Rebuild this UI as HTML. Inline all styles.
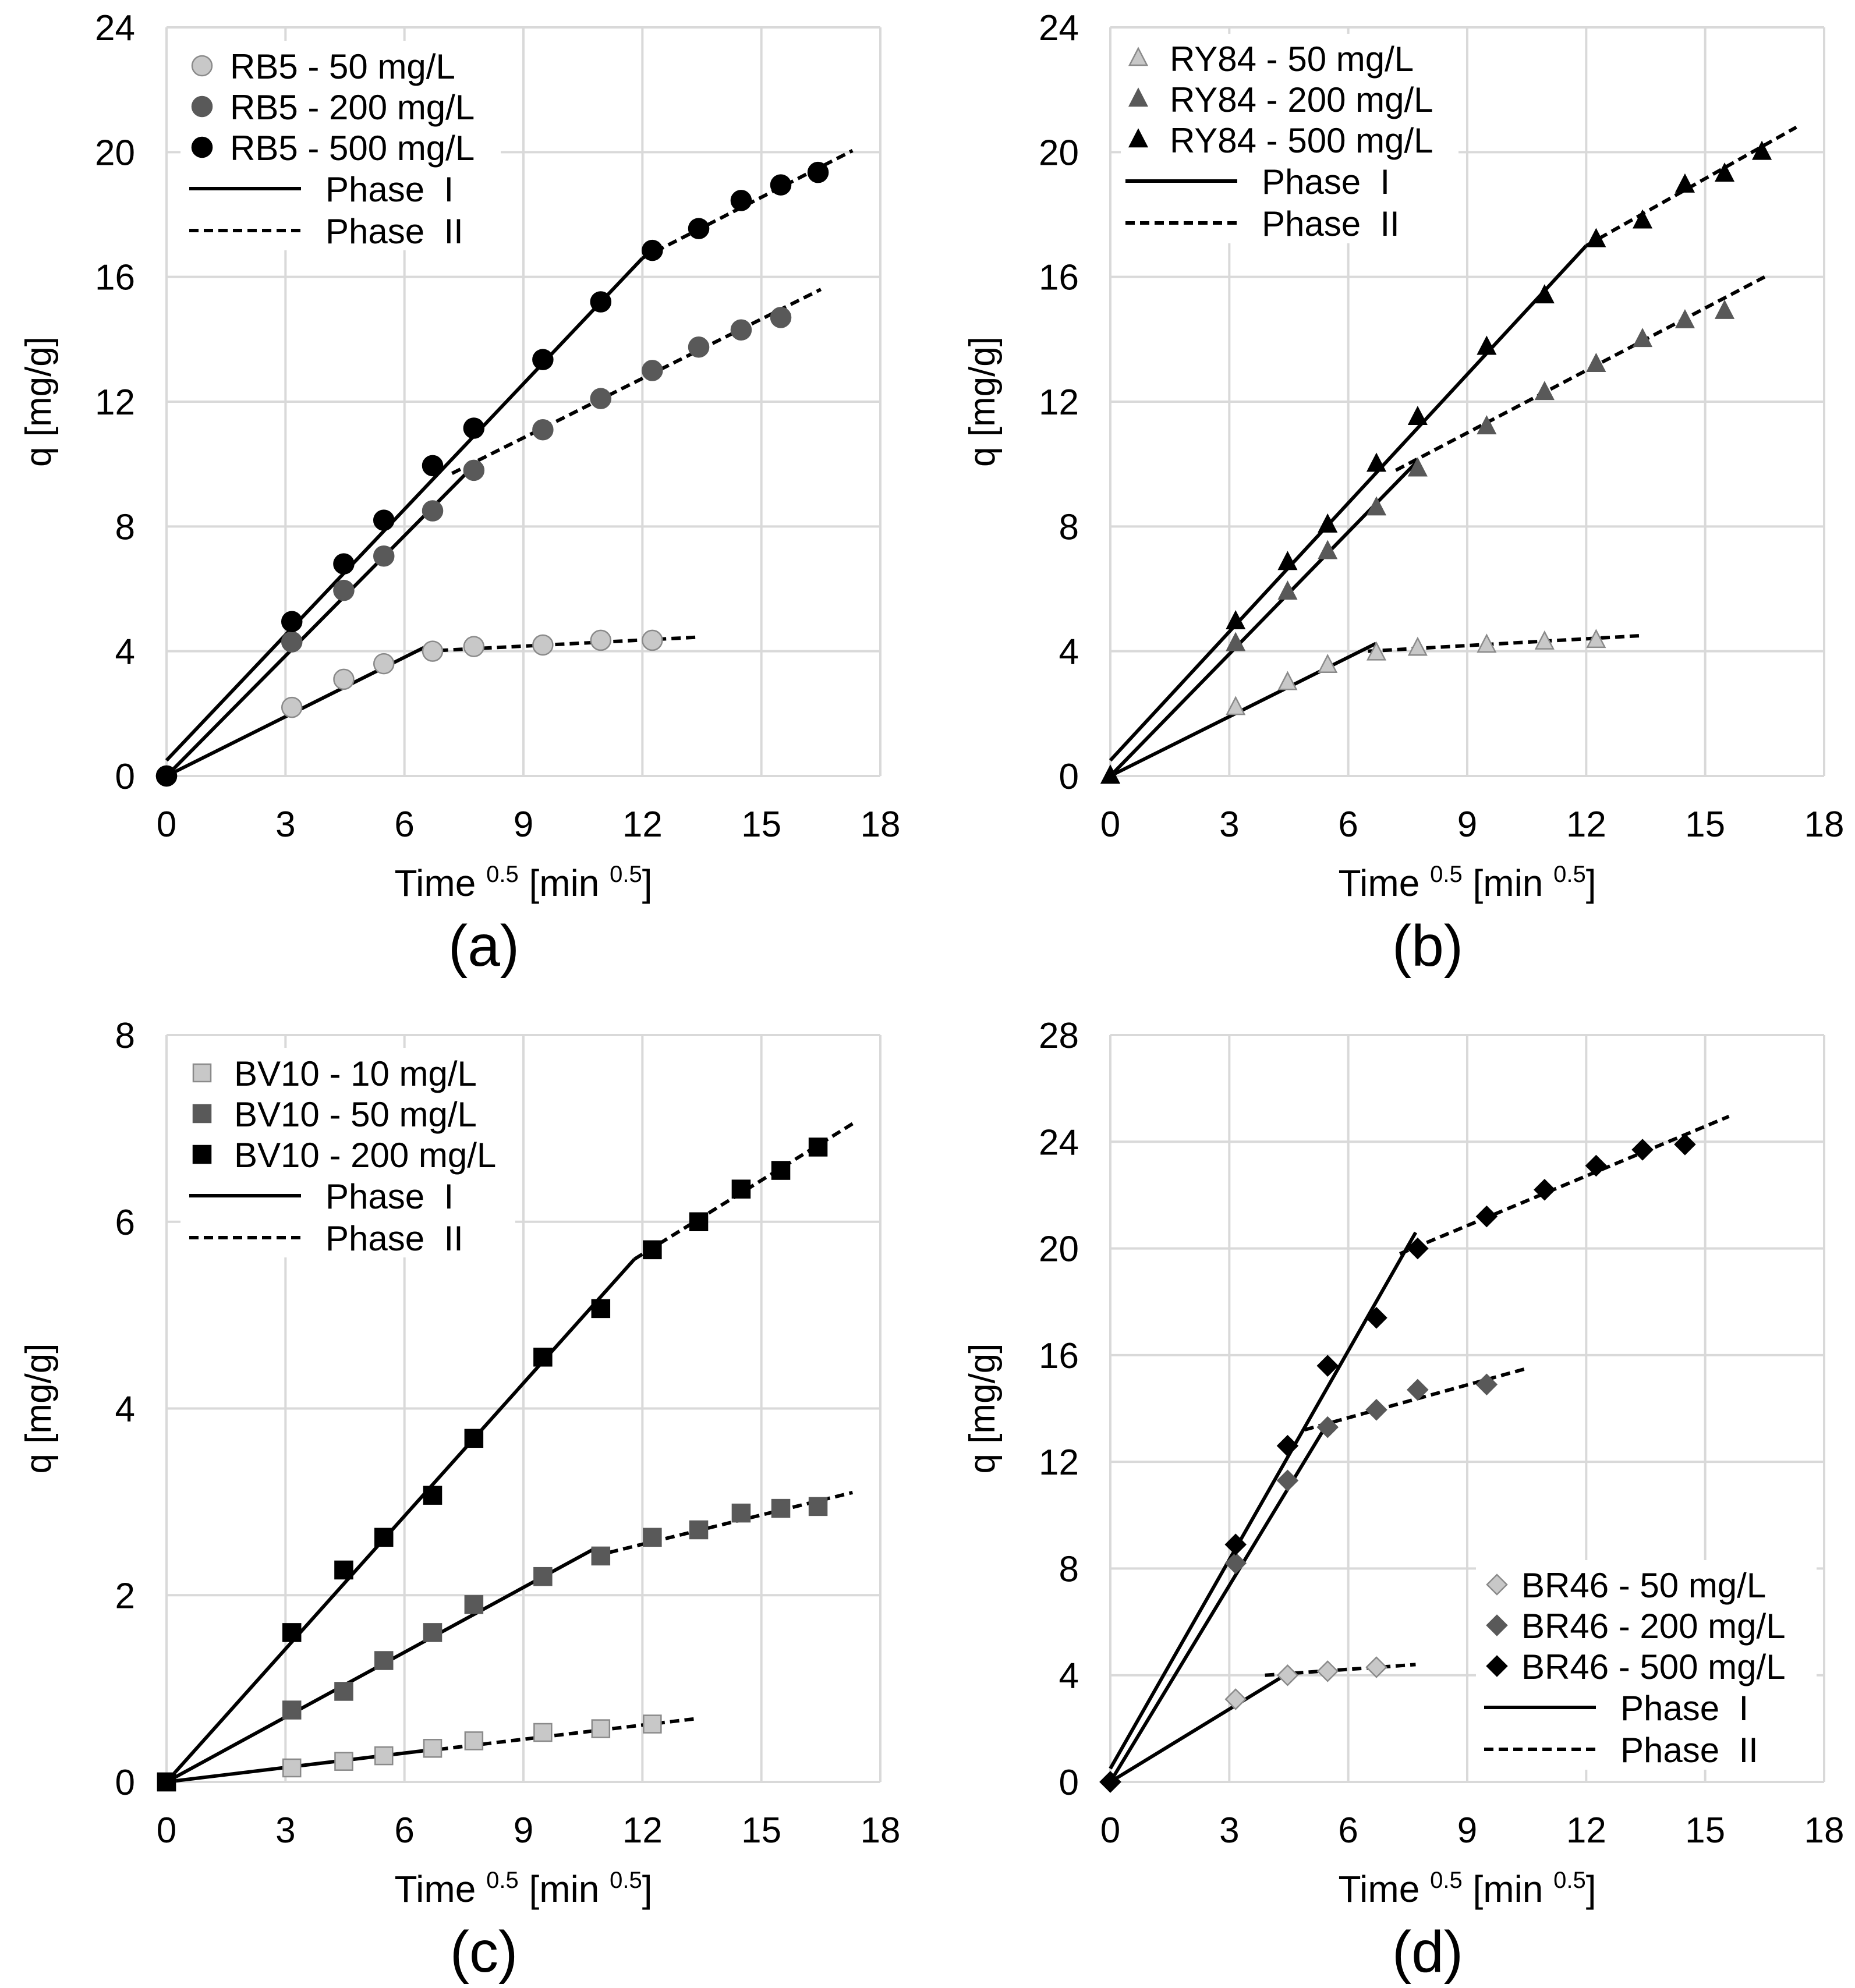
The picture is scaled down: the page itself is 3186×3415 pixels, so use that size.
<!DOCTYPE html>
<html><head><meta charset="utf-8"><style>
html,body{margin:0;padding:0;background:#fff}
svg{display:block}
text{font-family:"Liberation Sans",Arial,sans-serif;fill:#000}
</style></head>
<body>
<svg id="fig" width="3186" height="3415" viewBox="0 0 3186 3415" xmlns="http://www.w3.org/2000/svg"></svg>
<script>
// ---- data ----
const tx9 = [0, 3.16, 4.47, 5.48, 6.71, 7.75, 9.49, 10.95, 12.25];
const tx12 = [0, 3.16, 4.47, 5.48, 6.71, 7.75, 9.49, 10.95, 12.25, 13.42, 14.49, 15.49];
const tx13 = [0, 3.16, 4.47, 5.48, 6.71, 7.75, 9.49, 10.95, 12.25, 13.42, 14.49, 15.49, 16.43];
const xTicks = [0, 3, 6, 9, 12, 15, 18];

const rb5_50 = [0, 2.2, 3.1, 3.6, 4.0, 4.15, 4.2, 4.35, 4.35];
const rb5_200 = [0, 4.3, 5.95, 7.05, 8.5, 9.8, 11.1, 12.1, 13.0, 13.75, 14.3, 14.7];
const rb5_500 = [0, 4.95, 6.8, 8.2, 9.95, 11.15, 13.35, 15.2, 16.85, 17.55, 18.45, 18.95, 19.35];
const rb5_p1 = [[0,0,6.7,4.25],[0,0,7.75,9.95],[0,0.5,12,16.6]];
const rb5_p2 = [[6.5,4.0,13.4,4.45],[7.2,9.7,16.5,15.6],[12,16.6,17.3,20.05]];

const ry84_50 = [0, 2.2, 3.0, 3.55, 3.95, 4.1, 4.2, 4.3, 4.35];
const ry84_200 = [0, 4.25, 5.9, 7.2, 8.6, 9.85, 11.2, 12.3, 13.2, 14.0, 14.6, 14.9];
const ry84_500 = [0, 4.95, 6.85, 8.05, 10.0, 11.5, 13.75, 15.4, 17.2, 17.8, 18.95, 19.3, 20.0];
const ry84_p1 = [[0,0,6.7,4.25],[0,0,7.75,10.1],[0,0.5,12,17.0]];
const ry84_p2 = [[6.5,4.0,13.4,4.5],[7.2,9.8,16.5,16.0],[12,17.0,17.3,20.8]];

const bv10_10 = [0, 0.15, 0.22, 0.28, 0.36, 0.44, 0.53, 0.57, 0.62];
const bv10_50 = [0, 0.77, 0.97, 1.3, 1.6, 1.9, 2.2, 2.42, 2.62, 2.7, 2.88, 2.93, 2.95];
const bv10_200 = [0, 1.6, 2.27, 2.62, 3.07, 3.68, 4.55, 5.07, 5.7, 6.0, 6.35, 6.55, 6.8];
const bv10_p1 = [[0,0,6.6,0.34],[0,0,10.8,2.5],[0,0,11.8,5.6]];
const bv10_p2 = [[6.5,0.33,13.4,0.68],[10.8,2.42,17.3,3.1],[11.8,5.6,17.3,7.05]];

const tx5 = [0, 3.16, 4.47, 5.48, 6.71];
const tx7 = [0, 3.16, 4.47, 5.48, 6.71, 7.75, 9.49];
const tx11 = [0, 3.16, 4.47, 5.48, 6.71, 7.75, 9.49, 10.95, 12.25, 13.42, 14.49];
const br46_50 = [0, 3.1, 4.0, 4.15, 4.3];
const br46_200 = [0, 8.2, 11.3, 13.3, 13.95, 14.7, 14.9];
const br46_500 = [0, 8.9, 12.6, 15.6, 17.4, 20.0, 21.2, 22.2, 23.1, 23.7, 23.9];
const br46_p1 = [[0,0,4.4,4.0],[0,0,5.5,13.5],[0,0.5,7.7,20.6]];
const br46_p2 = [[3.9,4.0,7.7,4.4],[4.9,13.2,10.5,15.5],[7.3,19.8,15.6,24.95]];

const yTicksAB = [0,4,8,12,16,20,24];
const yTicksC = [0,2,4,6,8];
const yTicksD = [0,4,8,12,16,20,24,28];

const NS = "http://www.w3.org/2000/svg";
const svg = document.getElementById('fig');
function el(tag, attrs, parent, txt){
  const e = document.createElementNS(NS, tag);
  for (const k in attrs) e.setAttribute(k, attrs[k]);
  if (txt !== undefined) e.textContent = txt;
  (parent||svg).appendChild(e);
  return e;
}
const fills = ['#c8c8c8','#595959','#000'];
const strokes = ['#8a8a8a','#595959','#000'];

function marker(g, shape, cx, cy, i){
  let m;
  if (shape==='circle') m = el('circle',{cx:cx,cy:cy,r:17,fill:fills[i],stroke:strokes[i],'stroke-width':2.5},g);
  else if (shape==='tri') m = el('polygon',{points:`${cx},${cy-17} ${cx+15},${cy+12} ${cx-15},${cy+12}`,fill:fills[i],stroke:strokes[i],'stroke-width':2.5},g);
  else if (shape==='sq') m = el('rect',{x:cx-15,y:cy-15,width:30,height:30,fill:fills[i],stroke:strokes[i],'stroke-width':2.5},g);
  else m = el('polygon',{points:`${cx},${cy-17} ${cx+17},${cy} ${cx},${cy+17} ${cx-17},${cy}`,fill:fills[i],stroke:strokes[i],'stroke-width':2.5},g);
  return m;
}

function panel(p){
  const g = el('g',{});
  
  
  const sx = v => p.x0 + v/18*(p.x1-p.x0);
  const sy = v => p.y0 - v/p.ymax*(p.y0-p.y1);
  const grid = el('g',{},g);
  
  
  xTicks.forEach(t=>{
    el('line',{x1:sx(t),x2:sx(t),y1:p.y0,y2:p.y1,stroke:'#d9d9d9','stroke-width':4},grid);
    const lab = el('text',{x:sx(t),y:p.y0+104,'font-size':62,'text-anchor':'middle'},g,String(t));
    
    
  });
  p.yTicks.forEach(t=>{
    el('line',{x1:p.x0,x2:p.x1,y1:sy(t),y2:sy(t),stroke:'#d9d9d9','stroke-width':4},grid);
    const lab = el('text',{x:p.x0-54,y:sy(t)+22,'font-size':62,'text-anchor':'end'},g,String(t));
    
    
  });
  const xt = el('text',{x:(p.x0+p.x1)/2,y:p.y0+206,'font-size':64,'text-anchor':'middle'},g);
  
  
  el('tspan',{},xt,'Time ');
  el('tspan',{'font-size':40,dy:-24},xt,'0.5');
  el('tspan',{dy:24},xt,' [min ');
  el('tspan',{'font-size':40,dy:-24},xt,'0.5');
  el('tspan',{dy:24},xt,']');
  const cy = (p.y0+p.y1)/2;
  const yt = el('text',{x:p.x0-199,y:cy,'font-size':62,'text-anchor':'middle',transform:`rotate(-90 ${p.x0-199} ${cy})`},g,'q [mg/g]');
  
  
  const pl = el('text',{x:(p.x0+p.x1)/2-68,y:p.y0+326,'font-size':100,'text-anchor':'middle'},g,p.label);
  
  
  const lb = el('rect',{x:p.lg.bx,y:p.lg.by,width:p.lg.bw,height:p.lg.bh,fill:'#fff'},g);
  
  
  p.p1.forEach(s=>{
    const l = el('line',{x1:sx(s[0]),y1:sy(s[1]),x2:sx(s[2]),y2:sy(s[3]),stroke:'#000','stroke-width':6},g);
    
    
  });
  p.p2.forEach(s=>{
    const l = el('line',{x1:sx(s[0]),y1:sy(s[1]),x2:sx(s[2]),y2:sy(s[3]),stroke:'#000','stroke-width':6,'stroke-dasharray':'16 9'},g);
    
    
  });
  p.series.forEach((s,i)=>{
    const sg = el('g',{},g);
    
    
    s.y.forEach((v,j)=>{
      const m = marker(sg, p.shape, sx(s.x[j]), sy(v), i);
      
      
    });
  });
  const lg = el('g',{},g);
  
  
  const mx = p.lg.mx, my = p.lg.my;
  p.names.forEach((n,i)=>{
    const e = el('g',{},lg);
    
    
    marker(e, p.shape, mx, my+i*70, i);
    el('text',{x:mx+p.lg.tdx,y:my+i*70+22,'font-size':60},e,n);
  });
  const e1 = el('g',{},lg);
  
  
  el('line',{x1:mx-22,x2:mx+170,y1:my+211,y2:my+211,stroke:'#000','stroke-width':6},e1);
  el('text',{x:mx+212,y:my+233,'font-size':60},e1,'Phase\u00A0\u00A0I');
  const e2 = el('g',{},lg);
  
  
  el('line',{x1:mx-22,x2:mx+170,y1:my+283,y2:my+283,stroke:'#000','stroke-width':6,'stroke-dasharray':'16 9'},e2);
  el('text',{x:mx+212,y:my+305,'font-size':60},e2,'Phase\u00A0\u00A0II');
}

panel({id:'panel-a',label:'(a)',x0:286,x1:1512,y0:1333,y1:47,ymax:24,yTicks:yTicksAB,shape:'circle',
  names:['RB5 - 50 mg/L','RB5 - 200 mg/L','RB5 - 500 mg/L'],
  series:[{x:tx9,y:rb5_50},{x:tx12,y:rb5_200},{x:tx13,y:rb5_500}],p1:rb5_p1,p2:rb5_p2,
  lg:{mx:347,my:113,tdx:48,bx:310,by:70,bw:550,bh:360}});
panel({id:'panel-b',label:'(b)',x0:1907,x1:3133,y0:1333,y1:47,ymax:24,yTicks:yTicksAB,shape:'tri',
  names:['RY84 - 50 mg/L','RY84 - 200 mg/L','RY84 - 500 mg/L'],
  series:[{x:tx9,y:ry84_50},{x:tx12,y:ry84_200},{x:tx13,y:ry84_500}],p1:ry84_p1,p2:ry84_p2,
  lg:{mx:1955,my:100,tdx:54,bx:1925,by:58,bw:580,bh:360}});
panel({id:'panel-c',label:'(c)',x0:286,x1:1512,y0:3061,y1:1778,ymax:8,yTicks:yTicksC,shape:'sq',
  names:['BV10 - 10 mg/L','BV10 - 50 mg/L','BV10 - 200 mg/L'],
  series:[{x:tx9,y:bv10_10},{x:tx13,y:bv10_50},{x:tx13,y:bv10_200}],p1:bv10_p1,p2:bv10_p2,
  lg:{mx:347,my:1843,tdx:55,bx:310,by:1800,bw:575,bh:360}});
panel({id:'panel-d',label:'(d)',x0:1907,x1:3133,y0:3061,y1:1778,ymax:28,yTicks:yTicksD,shape:'dia',
  names:['BR46 - 50 mg/L','BR46 - 200 mg/L','BR46 - 500 mg/L'],
  series:[{x:tx5,y:br46_50},{x:tx7,y:br46_200},{x:tx11,y:br46_500}],p1:br46_p1,p2:br46_p2,
  lg:{mx:2571,my:2722,tdx:42,bx:2535,by:2680,bw:585,bh:360}});
</script>
</body></html>
